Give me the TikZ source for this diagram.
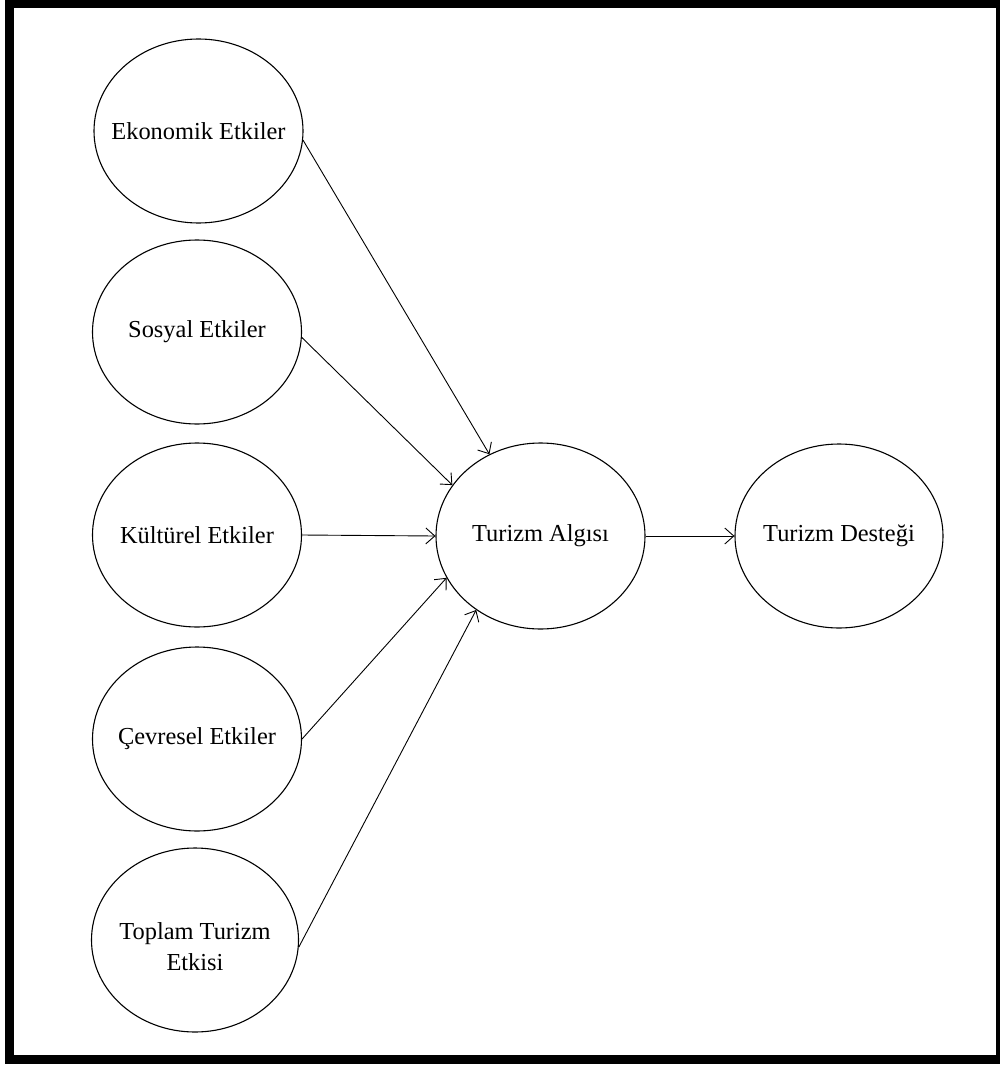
\documentclass[tikz,border=0pt]{standalone}
\usepackage{fontspec}
\setmainfont{Liberation Serif}
\usetikzlibrary{shapes.geometric,arrows.meta}
\begin{document}
\begin{tikzpicture}[x=1pt,y=-1pt,
  txt/.style={font=\fontsize{24.4}{31}\selectfont,inner sep=0pt,align=center},
  oval/.style={ellipse,draw,line width=1.1pt,minimum width=209pt,minimum height=184pt,inner sep=0pt,txt},
  arr/.style={line width=0.9pt,-{Straight Barb[length=9pt,width=16pt,line width=0.9pt]}}]
\useasboundingbox (0,0) rectangle (1000,1065);
\clip (0,0) rectangle (1000,1065);
\fill[white] (0,0) rectangle (1000,1065);
\draw[line width=9pt] (9.5,3.5) rectangle (1000.5,1059);
\node[oval] (eko) at (198.5,131) {\makebox[0pt]{Ekonomik Etkiler}};
\node[oval] (sos) at (197,332) {\makebox[0pt]{Sosyal Etkiler}};
\node[oval] (kul) at (197,535) {\makebox[0pt]{Kültürel Etkiler}};
\node[oval] (cev) at (197,739) {\makebox[0pt]{Çevresel Etkiler}};
\node[oval,minimum width=207pt] (top) at (195,940) {};
\node[txt] (toptxt) at (195,947) {Toplam Turizm\\Etkisi};
\node[oval,minimum height=186pt] (alg) at (540.5,536) {\makebox[0pt]{Turizm Algısı}};
\node[oval,minimum width=208pt] (des) at (839,536) {\makebox[0pt]{Turizm Desteği}};
\draw[arr] (eko.-5) -- (alg.122);
\draw[arr] (sos.-3) -- (alg.150.7);
\draw[arr] (kul.east) -- (alg.west);
\draw[arr] (cev.0) -- (alg.204.4);
\draw[arr] (top.-4.4) -- (alg.229.7);
\draw[arr] (alg.east) -- (des.west);
\end{tikzpicture}
\end{document}
